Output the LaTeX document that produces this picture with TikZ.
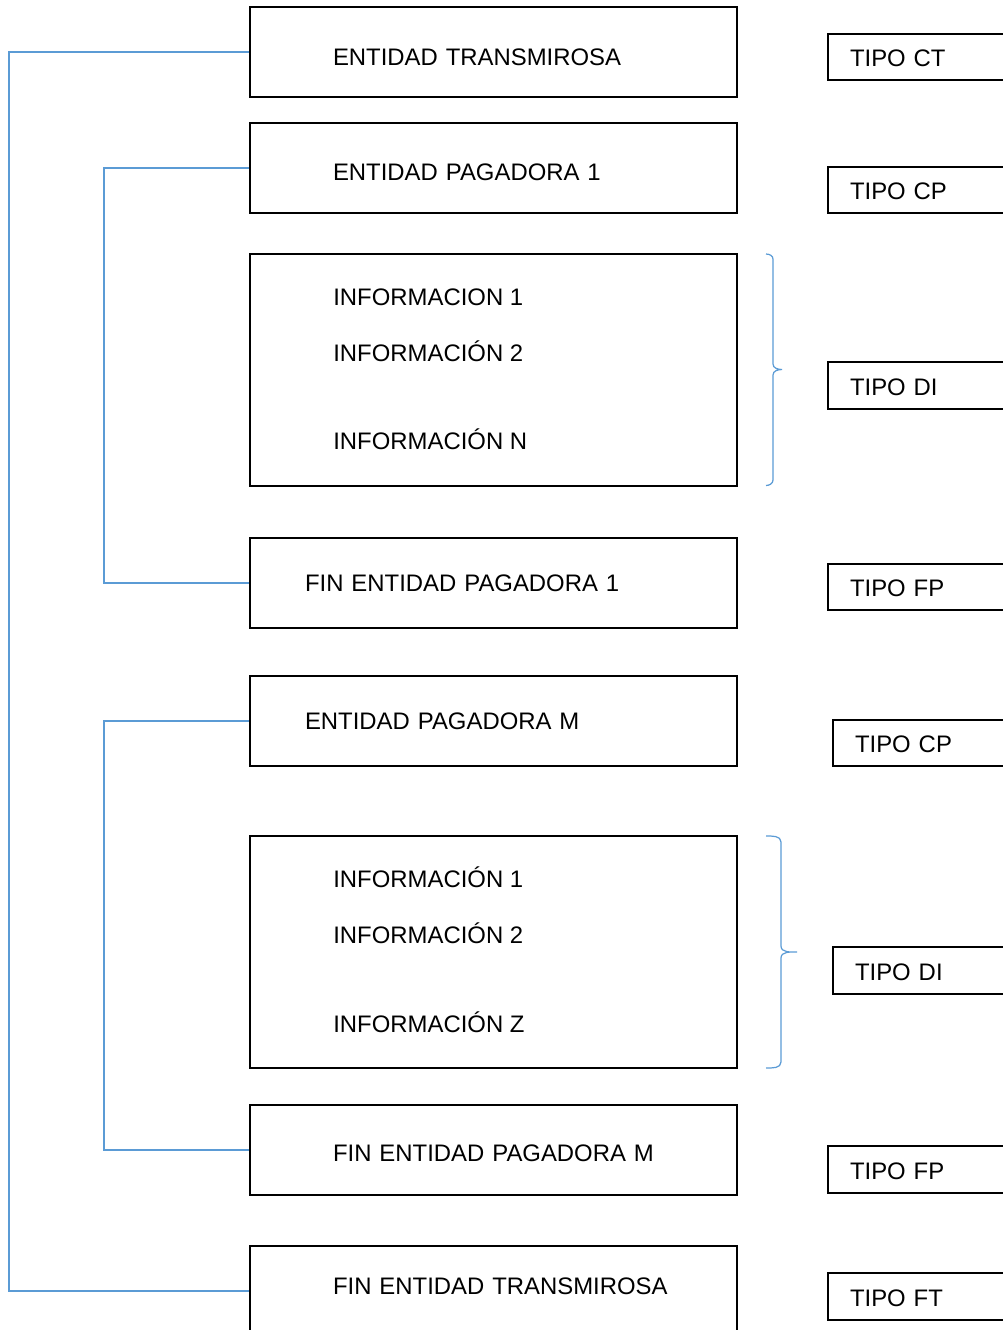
\documentclass[tikz,border=0pt]{standalone}
\usepackage{fontspec}
\setmainfont{Liberation Sans}
\definecolor{enlaceazul}{RGB}{91,155,213}

\tikzset{
  caja/.style={draw, line width=1.2pt, minimum width=9.74cm, minimum height=1.8cm,
    inner sep=0pt, text width=9.74cm, align=left,
    execute at begin node={\hspace*{#1}},
    font=\fontsize{13.6}{16}\selectfont},
  caja/.default=1.66cm,
  cajaalta/.style={caja, minimum height=4.64cm},
  bajar/.style={text height=#1, text depth=0pt},
  subir/.style={text height=9.7pt, text depth=#1},
  tipo/.style={draw, line width=1pt, minimum width=4cm, minimum height=0.93cm,
    inner ysep=0pt, inner xsep=0.44cm, text width=3.12cm, align=left,
    text height=11pt, text depth=0pt,
    font=\fontsize{13.6}{16}\selectfont},
  linea/.style={anchor=west, inner sep=0pt, text height=9.7pt, text depth=0pt,
    font=\fontsize{13.6}{16}\selectfont},
  enlace/.style={draw=enlaceazul, line width=0.6pt},
  llave/.style={draw=enlaceazul, line width=0.7pt}
}

\begin{document}
\begin{tikzpicture}[x=0.02cm, y=-0.02cm]
  \useasboundingbox (0,0) rectangle (1003,1330);

  % columna de registros
  \node[caja, bajar=15.4pt] (trans) at (493.5,52) {ENTIDAD TRANSMIROSA};
  \node[caja, bajar=14.3pt] (pag1) at (493.5,168) {ENTIDAD PAGADORA 1};
  \node[cajaalta] (info1) at (493.5,370) {};
  \node[caja=1.1cm] (finpag1) at (493.5,583) {FIN ENTIDAD PAGADORA 1};
  \node[caja=1.1cm] (pagm) at (493.5,721) {ENTIDAD PAGADORA M};
  \node[cajaalta] (infom) at (493.5,952) {};
  \node[caja, bajar=13.1pt] (finpagm) at (493.5,1150) {FIN ENTIDAD PAGADORA M};
  \node[caja, subir=5.7pt] (fintrans) at (493.5,1291) {FIN ENTIDAD TRANSMIROSA};

  % lineas de informacion
  \node[linea] (inf11) at (333,297) {INFORMACION 1};
  \node[linea] (inf12) at (333,353) {INFORMACIÓN 2};
  \node[linea] (inf1n) at (333,441) {INFORMACIÓN N};
  \node[linea] (infm1) at (333,879) {INFORMACIÓN 1};
  \node[linea] (infm2) at (333,935) {INFORMACIÓN 2};
  \node[linea] (infmz) at (333,1024) {INFORMACIÓN Z};

  % tipos de registro
  \node[tipo] (tct) at (928,57) {TIPO CT};
  \node[tipo] (tcp1) at (928,190) {TIPO CP};
  \node[tipo] (tdi1) at (928,385.5) {TIPO DI};
  \node[tipo] (tfp1) at (928,587) {TIPO FP};
  \node[tipo] (tcpm) at (933,743) {TIPO CP};
  \node[tipo] (tdim) at (933,970.5) {TIPO DI};
  \node[tipo] (tfpm) at (928,1169.5) {TIPO FP};
  \node[tipo] (tft) at (928,1296.5) {TIPO FT};

  % agrupaciones
  \draw[enlace] (trans.west) -- ++(-240,0) |- (fintrans.west);
  \draw[enlace] (pag1.west) -- ++(-145,0) |- (finpag1.west);
  \draw[enlace] (pagm.west) -- ++(-145,0) |- (finpagm.west);

  % llaves
  \draw[llave] (766,254) to[out=0,in=90] (773,259) -- (773,364)
    to[out=-90,in=180] (782,369.5) to[out=180,in=90] (773,375) -- (773,480)
    to[out=-90,in=0] (766,485.5);
  \draw[llave] (766,836) to[out=0,in=90] (781,842) -- (781,946)
    to[out=-90,in=180] (797,952) to[out=180,in=90] (781,958) -- (781,1062)
    to[out=-90,in=0] (766,1068);
\end{tikzpicture}
\end{document}
